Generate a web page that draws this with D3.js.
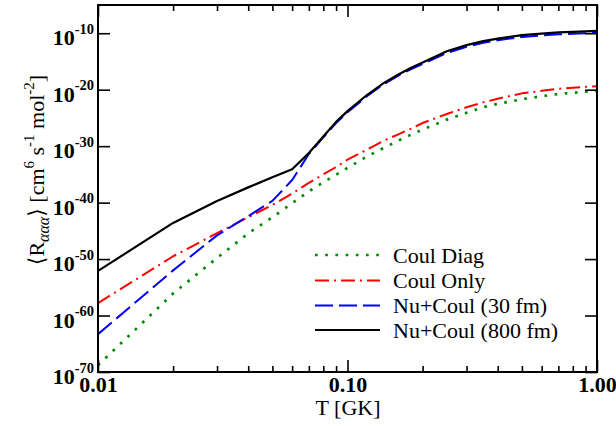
<!DOCTYPE html>
<html>
<head>
<meta charset="utf-8">
<script src="https://cdn.jsdelivr.net/npm/d3@7"></script>
<style>
  html, body { margin: 0; padding: 0; background: #fff; }
  svg { display: block; }
</style>
</head>
<body>
<svg id="chart" width="616" height="426"></svg>
<script>
// ---- Data ----
const temperatureGK = [0.01,0.02,0.03,0.04,0.05,0.06,0.07,0.08,0.09,0.10,0.12,0.14,0.16,0.18,0.20,0.25,0.30,0.35,0.40,0.50,0.60,0.70,0.80,0.90,1.00];
// log10 of <R_ααα> for each series
const coulDiagLog   = [-68.8,-56.1,-49.8,-45.45,-42.6,-40.1,-38.0,-36.4,-35.05,-33.85,-31.8,-30.3,-29.0,-27.95,-27.05,-25.3,-24.1,-23.1,-22.5,-21.7,-21.15,-20.77,-20.54,-20.34,-20.25];
const coulOnlyLog   = [-57.8,-49.5,-45.4,-42.6,-40.4,-38.4,-36.5,-35.0,-33.7,-32.4,-30.6,-29.0,-27.9,-26.9,-25.9,-24.3,-23.1,-22.25,-21.6,-20.65,-20.2,-19.84,-19.66,-19.5,-19.4];
const nuCoul30Log   = [-63.3,-52.0,-45.8,-42.4,-39.7,-36.0,-31.4,-28.45,-25.9,-24.0,-21.1,-19.0,-17.5,-16.35,-15.45,-13.5,-12.4,-11.7,-11.25,-10.65,-10.4,-10.2,-10.1,-10.0,-9.93];
const nuCoul800Log  = [-52.1,-43.6,-39.7,-37.3,-35.5,-34.1,-31.2,-28.3,-25.7,-23.8,-20.9,-18.8,-17.3,-16.1,-15.2,-13.2,-12.1,-11.4,-10.95,-10.32,-10.06,-9.86,-9.76,-9.67,-9.59];

const seriesNames = ["Coul Diag", "Coul Only", "Nu+Coul (30 fm)", "Nu+Coul (800 fm)"];
const xMajorTicks = [0.01, 0.1, 1];
const xMajorLabels = ["0.01", "0.10", "1.00"];
const xMinorTicks = [0.02,0.03,0.04,0.05,0.06,0.07,0.08,0.09,0.2,0.3,0.4,0.5,0.6,0.7,0.8,0.9];
const yTickExponents = [-70, -60, -50, -40, -30, -20, -10];

// ---- Layout / style ----
const L = 98, R = 597, T = 5, B = 372;
const serif = "'Liberation Serif', 'Times New Roman', 'DejaVu Serif', serif";
const styles = [
  { color: "#008c00", width: 2.7, dash: "2.7,7.5" },
  { color: "#ff0000", width: 2,   dash: "14,5,2,5" },
  { color: "#0000ff", width: 2,   dash: "18,6" },
  { color: "#000000", width: 2.2, dash: null }
];

const svg = d3.select("#chart");
const x = d3.scaleLog().domain([0.01, 1]).range([L, R]);
const y = d3.scaleLog().domain([1e-70, 1e-5]).range([B, T]);

const allSeries = [coulDiagLog, coulOnlyLog, nuCoul30Log, nuCoul800Log].map(arr =>
  temperatureGK.map((t, i) => ({ t: t, r: Math.pow(10, arr[i]) })));

// ---- Curves ----
const clipId = "plotclip";
svg.append("clipPath").attr("id", clipId).append("rect")
  .attr("x", L).attr("y", T).attr("width", R - L).attr("height", B - T);

const line = d3.line().x(d => x(d.t)).y(d => y(d.r));
const curves = svg.append("g").attr("clip-path", `url(#${clipId})`);
allSeries.forEach((s, i) => {
  curves.append("path").datum(s)
    .attr("d", line)
    .attr("fill", "none")
    .attr("stroke", styles[i].color)
    .attr("stroke-width", styles[i].width)
    .attr("stroke-dasharray", styles[i].dash)
    .attr("stroke-linejoin", "round");
});

// ---- Axes (ticks pointing inward on all four sides) ----
function styleAxis(g) {
  g.select(".domain").remove();
  g.selectAll(".tick line").attr("stroke", "#000").attr("stroke-width", 1.6);
}
svg.append("g").attr("transform", `translate(0,${B})`)
  .call(d3.axisBottom(x).tickValues(xMinorTicks).tickSize(-6).tickFormat(""))
  .call(styleAxis);
svg.append("g").attr("transform", `translate(0,${T})`)
  .call(d3.axisTop(x).tickValues(xMinorTicks).tickSize(-6).tickFormat(""))
  .call(styleAxis);
svg.append("g").attr("transform", `translate(0,${T})`)
  .call(d3.axisTop(x).tickValues(xMajorTicks).tickSize(-12).tickFormat(""))
  .call(styleAxis);
const xAx = svg.append("g").attr("transform", `translate(0,${B})`)
  .call(d3.axisBottom(x).tickValues(xMajorTicks).tickSize(-12)
    .tickFormat((d, i) => xMajorLabels[i]))
  .call(styleAxis);
xAx.selectAll(".tick text")
  .attr("y", 20).attr("dy", 0)
  .attr("font-family", serif).attr("font-size", 22).attr("font-weight", "bold")
  .attr("fill", "#000");

const yTicks = yTickExponents.map(e => Math.pow(10, e));
svg.append("g").attr("transform", `translate(${R},0)`)
  .call(d3.axisRight(y).tickValues(yTicks).tickSize(-12).tickFormat(""))
  .call(styleAxis);
const yAx = svg.append("g").attr("transform", `translate(${L},0)`)
  .call(d3.axisLeft(y).tickValues(yTicks).tickSize(-12).tickFormat(""))
  .call(styleAxis);
yAx.selectAll(".tick").each(function(d, i) {
  const t = d3.select(this).append("text")
    .attr("x", -4).attr("y", 11.5)
    .attr("text-anchor", "end")
    .attr("font-family", serif).attr("font-weight", "bold").attr("fill", "#000");
  t.append("tspan").attr("font-size", 22).text("10");
  t.append("tspan").attr("font-size", 14.5).attr("dy", -11.5).text(String(yTickExponents[i]));
});

// frame
svg.append("rect").attr("x", L).attr("y", T).attr("width", R - L).attr("height", B - T)
  .attr("fill", "none").attr("stroke", "#000").attr("stroke-width", 2);

// ---- Axis titles ----
svg.append("text").attr("x", 348).attr("y", 415).attr("text-anchor", "middle")
  .attr("font-family", serif).attr("font-size", 22).attr("fill", "#000").text("T [GK]");

const yt = svg.append("text")
  .attr("transform", "translate(44,170) rotate(-90)")
  .attr("text-anchor", "middle")
  .attr("font-family", serif).attr("font-size", 22).attr("fill", "#000");
yt.append("tspan").text("\u27E8R");
yt.append("tspan").attr("font-size", 16).attr("font-style", "italic").attr("dy", 5).text("\u03B1\u03B1\u03B1");
yt.append("tspan").attr("dy", -5).text("\u27E9 [cm");
yt.append("tspan").attr("font-size", 15).attr("dy", -10).text("6");
yt.append("tspan").attr("dy", 10).text(" s");
yt.append("tspan").attr("font-size", 15).attr("dy", -10).text("-1");
yt.append("tspan").attr("dy", 10).text(" mol");
yt.append("tspan").attr("font-size", 15).attr("dy", -10).text("-2");
yt.append("tspan").attr("dy", 10).text("]");

// ---- Legend ----
const legendRows = [255, 280.5, 305.5, 330];
seriesNames.forEach((name, i) => {
  svg.append("line")
    .attr("x1", 315).attr("x2", 380)
    .attr("y1", legendRows[i]).attr("y2", legendRows[i])
    .attr("stroke", styles[i].color)
    .attr("stroke-width", styles[i].width)
    .attr("stroke-dasharray", styles[i].dash);
  svg.append("text").attr("x", 393).attr("y", legendRows[i] + 7.5)
    .attr("font-family", serif).attr("font-size", 22).attr("fill", "#000").text(name);
});
</script>
</body>
</html>
